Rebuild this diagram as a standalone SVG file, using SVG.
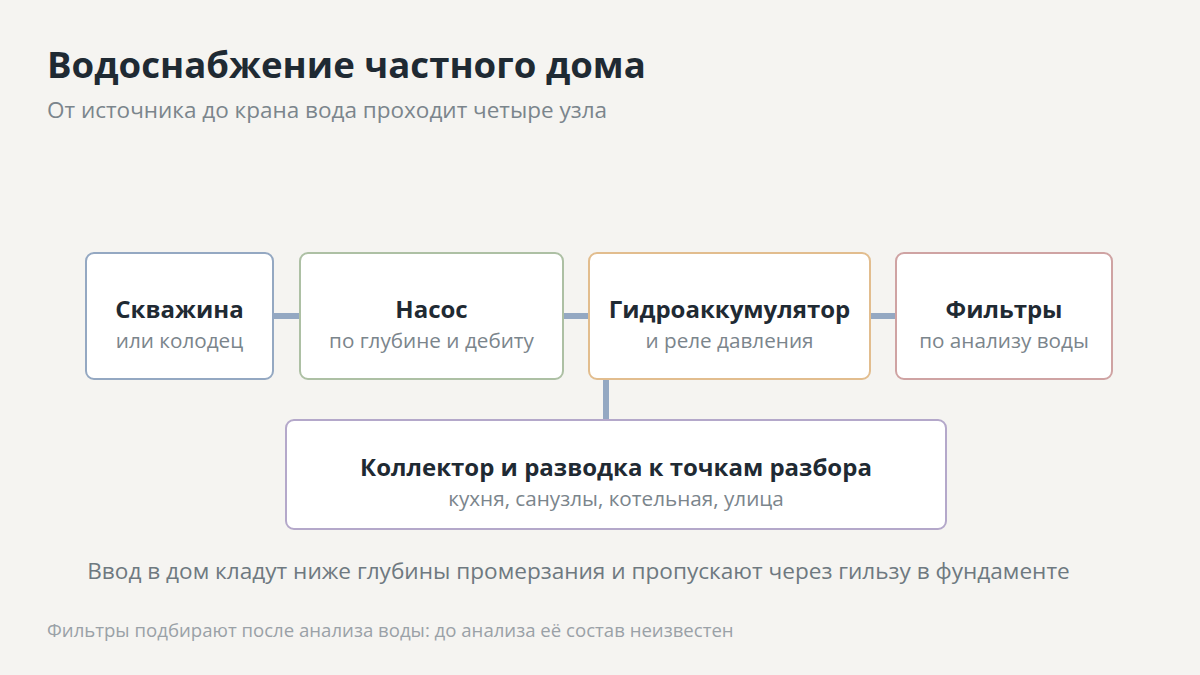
<svg xmlns="http://www.w3.org/2000/svg" width="1200" height="675" viewBox="0 0 1200 675">
<style>
text{font-family:"Open Sans","Noto Sans","DejaVu Sans",sans-serif}
.box{fill:#ffffff;stroke-width:2}
.t{font-size:24px;font-weight:700;fill:#1f2a33;text-anchor:middle}
.s{font-size:20.7px;fill:#7b858c;text-anchor:middle}
.c{stroke:#94a8c2;stroke-width:6;stroke-linecap:round;fill:none}
</style>
<rect width="1200" height="675" fill="#f5f4f1"/>
<text x="47" y="78" style="font-size:36.6px;font-weight:700;fill:#1f2a33">Водоснабжение частного дома</text>
<text x="47" y="118" style="font-size:22.5px;fill:#7b858c">От источника до крана вода проходит четыре узла</text>
<g id="connectors">
<line class="c" x1="274" y1="316" x2="299" y2="316"/>
<line class="c" x1="564" y1="316" x2="588" y2="316"/>
<line class="c" x1="871" y1="316" x2="895" y2="316"/>
<line class="c" x1="606" y1="380" x2="606" y2="419"/>
</g>
<g id="n1">
<rect class="box" x="86" y="253" width="187" height="126" rx="8" stroke="#94a8c2"/>
<text class="t" x="179.5" y="318">Скважина</text>
<text class="s" x="179.5" y="348">или колодец</text>
</g>
<g id="n2">
<rect class="box" x="300" y="253" width="263" height="126" rx="8" stroke="#adc0a4"/>
<text class="t" x="431.5" y="318">Насос</text>
<text class="s" x="431.5" y="348">по глубине и дебиту</text>
</g>
<g id="n3">
<rect class="box" x="589" y="253" width="281" height="126" rx="8" stroke="#e2bd8e"/>
<text class="t" x="729.5" y="318">Гидроаккумулятор</text>
<text class="s" x="729.5" y="348">и реле давления</text>
</g>
<g id="n4">
<rect class="box" x="896" y="253" width="216" height="126" rx="8" stroke="#cfa3a3"/>
<text class="t" x="1004" y="318">Фильтры</text>
<text class="s" x="1004" y="348">по анализу воды</text>
</g>
<g id="n5">
<rect class="box" x="286" y="420" width="660" height="109" rx="8" stroke="#b4a8ca"/>
<text class="t" x="616" y="476">Коллектор и разводка к точкам разбора</text>
<text class="s" x="616" y="506">кухня, санузлы, котельная, улица</text>
</g>
<text x="578.5" y="579" style="font-size:22.6px;fill:#6e7980;text-anchor:middle">Ввод в дом кладут ниже глубины промерзания и пропускают через гильзу в фундаменте</text>
<text x="47" y="637" style="font-size:18.6px;fill:#9aa1a7">Фильтры подбирают после анализа воды: до анализа её состав неизвестен</text>
</svg>
